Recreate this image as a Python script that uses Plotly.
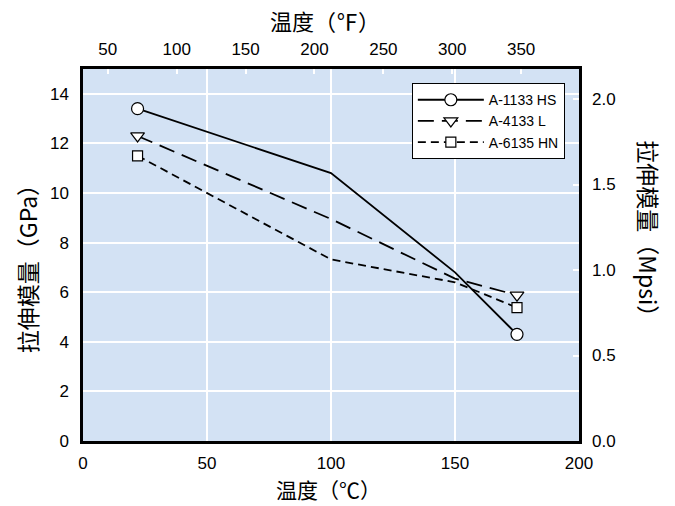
import plotly.graph_objects as go

# Tensile modulus vs. temperature for three grades
temps_c = [22, 100, 150, 175]
measured = [True, False, False, True]   # points shown with a symbol
series_names = ["A-1133 HS", "A-4133 L", "A-6135 HN"]
modulus_hs = [13.4, 10.8, 6.8, 4.3]
modulus_l = [12.3, 8.95, 6.55, 5.88]
modulus_hn = [11.5, 7.32, 6.4, 5.38]

c_ticks = [0, 50, 100, 150, 200]
f_ticks = [50, 100, 150, 200, 250, 300, 350]
gpa_ticks = [0, 2, 4, 6, 8, 10, 12, 14]
mpsi_ticks = [0.0, 0.5, 1.0, 1.5, 2.0]

GPA_PER_MPSI = 6.895
C_RANGE = [0, 200]
GPA_RANGE = [0, 15]

FONT = "Liberation Sans, Arial, Noto Sans CJK SC, sans-serif"
TITLE_FONT = "Noto Sans CJK SC, Liberation Sans, sans-serif"
BG = "#d3e2f4"

styles = [
    dict(dash="solid", symbol="circle", size=12),
    dict(dash="16px,8px", symbol="triangle-down", size=12),
    dict(dash="8px,5px", symbol="square", size=10),
]

fig = go.Figure()
for name, vals, st in zip(series_names, [modulus_hs, modulus_l, modulus_hn], styles):
    line = dict(color="black", width=1.8, dash=st["dash"])
    fig.add_trace(go.Scatter(
        x=temps_c, y=vals, mode="lines", line=line,
        showlegend=False, hoverinfo="skip", legendgroup=name,
    ))
    # symbols only at measured points; gaps keep the segments between them blank
    mx, my = [], []
    for t, v, m in zip(temps_c, vals, measured):
        mx.append(t)
        my.append(v if m else None)
    fig.add_trace(go.Scatter(
        x=mx, y=my, mode="lines+markers", name=name, line=line,
        connectgaps=False, legendgroup=name,
        marker=dict(symbol=st["symbol"], size=st["size"], color="white",
                    line=dict(color="black", width=1.2)),
    ))

# invisible anchors for the secondary axes
fig.add_trace(go.Scatter(x=[f_ticks[0]], y=[None], xaxis="x2", yaxis="y",
                         showlegend=False, hoverinfo="skip"))
fig.add_trace(go.Scatter(x=[None], y=[mpsi_ticks[0]], xaxis="x", yaxis="y2",
                         showlegend=False, hoverinfo="skip"))

tickfont = dict(family=FONT, size=17, color="black")
title_font = dict(family=TITLE_FONT, size=22, color="black")
bottom_title_font = dict(family=TITLE_FONT, size=21, color="black")
side_title_font = dict(family=TITLE_FONT, size=23, color="black")

fig.update_layout(
    width=675, height=506,
    margin=dict(l=83, r=96, t=69, b=65),
    paper_bgcolor="white",
    plot_bgcolor=BG,
    font=dict(family=FONT, color="black"),
    xaxis=dict(
        range=C_RANGE, tickvals=c_ticks, ticks="", showgrid=True,
        gridcolor="white", gridwidth=2, zeroline=False,
        showline=True, linecolor="black", linewidth=2.5, mirror=True,
        tickfont=tickfont, ticklabelstandoff=5,
    ),
    xaxis2=dict(
        range=[C_RANGE[0] * 9 / 5 + 32, C_RANGE[1] * 9 / 5 + 32],
        tickvals=f_ticks, overlaying="x", side="top", showgrid=False,
        zeroline=False, ticks="inside", ticklen=5, tickwidth=2,
        tickcolor="white", tickfont=tickfont, ticklabelstandoff=10,
    ),
    yaxis=dict(
        range=GPA_RANGE, tickvals=gpa_ticks, ticks="", showgrid=True,
        gridcolor="white", gridwidth=2, zeroline=False,
        showline=True, linecolor="black", linewidth=2.5, mirror=True,
        tickfont=tickfont, ticklabelstandoff=8,
    ),
    yaxis2=dict(
        range=[GPA_RANGE[0] / GPA_PER_MPSI, GPA_RANGE[1] / GPA_PER_MPSI],
        tickvals=mpsi_ticks, tickformat=".1f", overlaying="y", side="right",
        showgrid=False, zeroline=False, ticks="inside", ticklen=6,
        tickwidth=2, tickcolor="white", tickfont=tickfont,
        ticklabelstandoff=12,
    ),
    legend=dict(
        x=0.663, y=0.962, xanchor="left", yanchor="top",
        bgcolor="white", bordercolor="black", borderwidth=1,
        font=dict(family=FONT, size=14, color="black"),
        itemwidth=66, tracegroupgap=0,
    ),
    annotations=[
        dict(text="温度（℃）", xref="paper", yref="paper", x=0.494, y=-0.129,
             xanchor="center", yanchor="middle", showarrow=False,
             font=bottom_title_font),
        dict(text="温度（℉）", xref="paper", yref="paper", x=0.487, y=1.132,
             xanchor="center", yanchor="middle", showarrow=False, font=title_font),
        dict(text="拉伸模量（GPa）", xref="paper", yref="paper", x=-0.113, y=0.478,
             xanchor="center", yanchor="middle", textangle=-90, showarrow=False,
             font=side_title_font),
        dict(text="拉伸模量（Mpsi）", xref="paper", yref="paper", x=1.141, y=0.556,
             xanchor="center", yanchor="middle", textangle=90, showarrow=False,
             font=side_title_font),
    ],
)

fig.write_html("out.html")
